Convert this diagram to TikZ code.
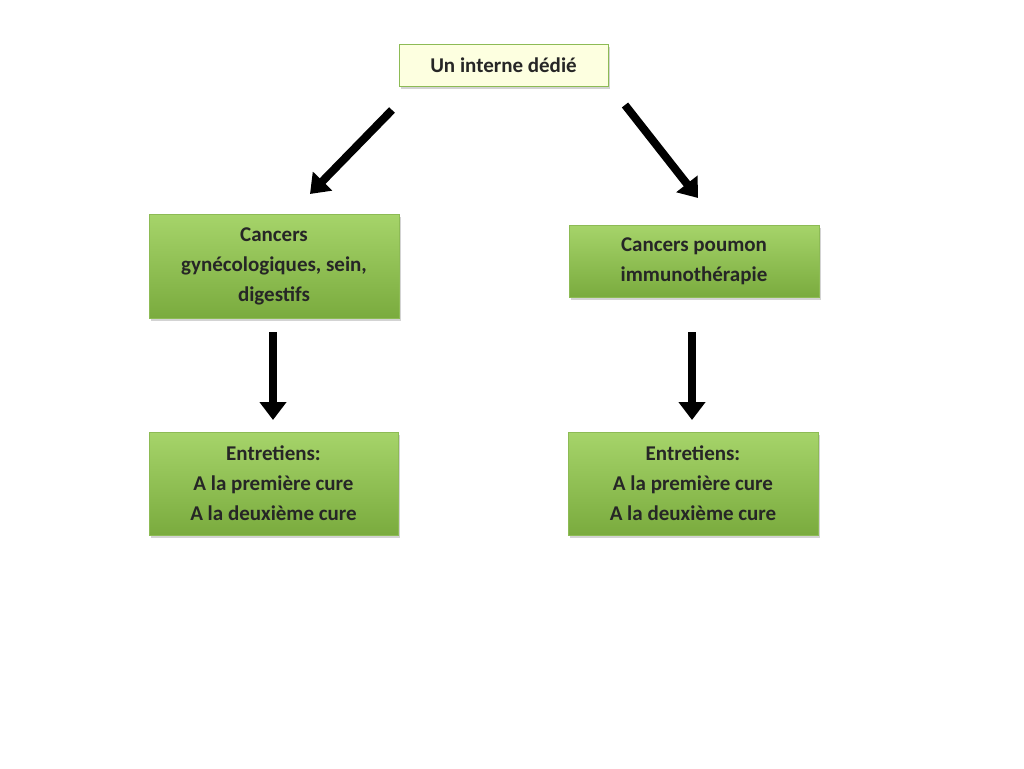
\documentclass[tikz,border=0pt]{standalone}
\usepackage{fontspec}
\setmainfont{Carlito}
\usetikzlibrary{arrows.meta,shadows}
\definecolor{gtop}{HTML}{A6D46A}
\definecolor{gbot}{HTML}{7AAB3E}
\definecolor{gedge}{HTML}{8DBB55}
\tikzset{
  box/.style={draw=gedge, line width=0.8pt, top color=gtop, bottom color=gbot, align=center,
    font=\fontsize{21}{30}\selectfont\bfseries, text=black!85, inner sep=0pt,
    drop shadow={shadow xshift=2pt, shadow yshift=-3pt, opacity=0.35}},
  topbox/.style={draw=gedge, line width=0.8pt, fill=green!8!yellow!12, align=center,
    font=\fontsize{21}{30}\selectfont\bfseries, text=black!85, inner sep=0pt,
    drop shadow={shadow xshift=2pt, shadow yshift=-3pt, opacity=0.35}},
  bigarrow/.style={line width=8pt, -{Triangle[width=26pt,length=18pt]}}
}
\begin{document}
\begin{tikzpicture}[x=1pt,y=-1pt]
\useasboundingbox (0,0) rectangle (1024,768);
\node[topbox, minimum width=209pt, minimum height=42pt] (top) at (503.5,65) {Un interne dédié};
\node[box, minimum width=250pt, minimum height=104pt] (ml) at (274,266) {Cancers\\gynécologiques, sein,\\digestifs};
\node[box, minimum width=250pt, minimum height=72pt] (mr) at (694,261) {Cancers poumon\\immunothérapie};
\node[box, minimum width=249pt, minimum height=103pt] (bl) at (273.5,483.5) {Entretiens:\\A la première cure\\A la deuxième cure};
\node[box, minimum width=250pt, minimum height=103pt] (br) at (693,483.5) {Entretiens:\\A la première cure\\A la deuxième cure};
\coordinate (a1s) at (392,110); \coordinate (a1e) at (310,194);
\coordinate (a2s) at (625,105); \coordinate (a2e) at (698,198);
\coordinate (a3s) at (273,332); \coordinate (a3e) at (273,420);
\coordinate (a4s) at (692,332); \coordinate (a4e) at (692,420);
\draw[bigarrow] (a1s) -- (a1e);
\draw[bigarrow] (a2s) -- (a2e);
\draw[bigarrow] (a3s) -- (a3e);
\draw[bigarrow] (a4s) -- (a4e);
\end{tikzpicture}
\end{document}
